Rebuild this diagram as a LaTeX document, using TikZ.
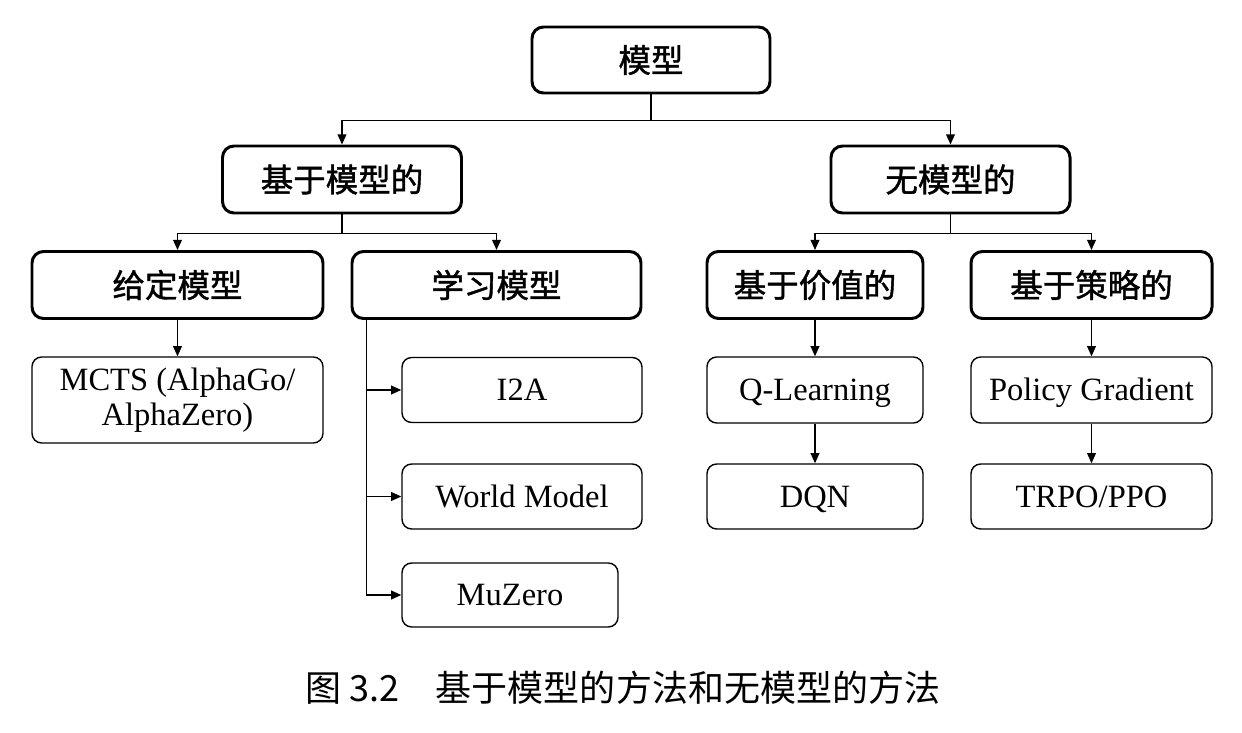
\documentclass[tikz,border=0pt]{standalone}
\usepackage{fontspec}
\setmainfont{Liberation Serif}
\newfontfamily\hei{Noto Sans CJK SC}
\newfontfamily\heimid[FakeBold=1.3]{Noto Sans CJK SC}
\usetikzlibrary{arrows.meta}
\usetikzlibrary{calc}
\newcommand{\pix}{0.02cm}
\tikzset{
  headbox/.style 2 args={draw,line width=1.7pt,rounded corners=6.5pt,inner sep=0pt,
    minimum width=#1*\pix,minimum height=#2*\pix,
    font=\heimid\fontsize{18.5pt}{22pt}\selectfont},
  algbox/.style 2 args={draw,line width=0.8pt,rounded corners=5.5pt,inner sep=0pt,
    minimum width=#1*\pix,minimum height=#2*\pix,align=center,
    text height=13pt,text depth=0.7pt,
    font=\fontsize{18.5pt}{20pt}\selectfont},
  link/.style={line width=0.8pt,-{Triangle[length=5.8pt,width=5pt]}},
}

\begin{document}
\begin{tikzpicture}[x=\pix,y=-\pix]
    \useasboundingbox (0,0) rectangle (1242,733);
    \pgfmathsetmacro{\lvlA}{179.5};
    \pgfmathsetmacro{\lvlB}{285};
    \pgfmathsetmacro{\lvlC}{390};
    \pgfmathsetmacro{\lvlD}{496.5};
      \node[headbox={238}{66}] (model) at (651,60) {模型};
      \node[headbox={239}{67}] (mbased) at (342,\lvlA) {基于模型的};
      \node[headbox={239}{67}] (mfree) at (950.5,\lvlA) {无模型的};

      \node[headbox={291}{67}] (given) at (177.5,\lvlB) {给定模型};
      \node[headbox={289}{67}] (learned) at (496.5,\lvlB) {学习模型};
      \node[headbox={216}{67}] (value) at (815,\lvlB) {基于价值的};
      \node[headbox={241}{67}] (policy) at (1091.5,\lvlB) {基于策略的};

      \node[algbox={291}{86},text height=,text depth=] (mcts) at (177.5,400) {MCTS (AlphaGo/\\AlphaZero)};
      \node[algbox={240}{65}] (itwoa) at (522,\lvlC) {I2A};
      \node[algbox={240}{65}] (world) at (522,\lvlD) {World Model};
      \node[algbox={216}{64}] (muzero) at (510,595) {MuZero};
      \node[algbox={216}{66}] (qlearn) at (815,\lvlC) {Q-Learning};
      \node[algbox={216}{65}] (dqn) at (815,\lvlD) {DQN};
      \node[algbox={241}{66}] (pgrad) at (1091.5,\lvlC) {Policy Gradient};
      \node[algbox={241}{65}] (trpo) at (1091.5,\lvlD) {TRPO/PPO};

      \draw[link] (model.south) -- ++(0,26) -| (mbased.north);
      \draw[link] (model.south) -- ++(0,26) -| (mfree.north);
      \draw[link] (mbased.south) -- ++(0,19) -| (given.north);
      \draw[link] (mbased.south) -- ++(0,19) -| (learned.north);
      \draw[link] (mfree.south) -- ++(0,19) -| (value.north);
      \draw[link] (mfree.south) -- ++(0,19) -| (policy.north);
      \draw[link] (given.south) -- (mcts.north);
      \draw[link] (learned.south west) ++(16,0) |- (itwoa.west);
      \draw[link] (learned.south west) ++(16,0) |- (world.west);
      \draw[link] (learned.south west) ++(16,0) |- (muzero.west);
      \draw[link] (value.south) -- (qlearn.north);
      \draw[link] (qlearn.south) -- (dqn.north);
      \draw[link] (policy.south) -- (pgrad.north);
      \draw[link] (pgrad.south) -- (trpo.north);

      \node[font=\hei\fontsize{20.5pt}{24pt}\selectfont] (caption) at (623,688) {图 3.2　基于模型的方法和无模型的方法};
  \end{tikzpicture}
\end{document}
